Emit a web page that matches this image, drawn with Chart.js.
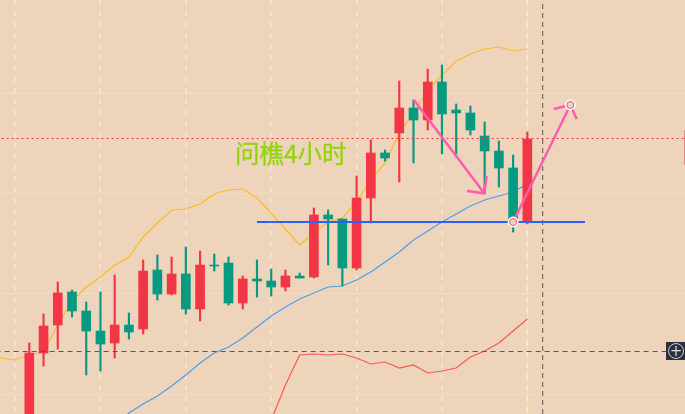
<!DOCTYPE html>
<html>
<head>
  <meta charset="UTF-8" />
  <title>问樵4小时</title>
  <script src="https://cdn.jsdelivr.net/npm/chart.js"></script>
  <style>
    html, body { margin: 0; padding: 0; background: #efd4bc; overflow: hidden; }
    #wrap { position: relative; width: 685px; height: 414px; overflow: hidden; }
    /* 6px bigger on every side: Chart.js keeps that room for the end handles */
    canvas { display: block; position: absolute; left: -6px; top: -6px; }
    #note {
      position: absolute; left: 235px; top: 137px;
      font: 24.5px "Noto Sans CJK SC", sans-serif; line-height: 32px; color: #93d40a;
      -webkit-text-stroke: 0.3px #93d40a;
    }
    #plus {
      position: absolute; left: 666px; top: 342px; width: 19px; height: 18px;
      background: #2a3040;
    }
    #plus span {
      display: block; position: absolute; left: 2px; top: 1px; width: 14px; height: 14px;
      border: 1px solid #c8ccd2; border-radius: 50%; color: #d8dadd;
      font: 15px/14px "DejaVu Sans"; text-align: center;
    }
    #edge {
      position: absolute; left: 684px; top: 130px; width: 1px; height: 35px; background: #e08a90;
    }
  </style>
</head>
<body>
<div id="wrap">
  <canvas id="chart" width="697" height="426"></canvas>
  <div id="note">问樵4小时</div>
  <div id="plus"><span>+</span></div>
  <div id="edge"></div>
</div>
<script>
  // candles
  const opens  = [96.4,104.1,106.9,110.2,108.3,106.3,105.1,106.9,106.5,112.4,110.0,112.0,108.5,112.9,113.1,109.1,111.5,111.3,110.7,111.8,111.7,117.9,117.5,112.6,119.6,124.1,126.1,128.6,127.4,131.2,128.4,128.1,125.8,124.3,122.6,117.2];
  const closes = [104.1,106.8,110.1,108.3,106.3,105.0,106.9,106.2,112.3,110.0,112.0,108.5,112.9,112.8,109.1,111.5,111.3,110.7,111.8,111.6,117.9,117.5,112.6,119.6,124.1,123.6,128.6,127.4,131.2,128.0,128.1,126.4,124.3,122.6,117.2,125.5];
  const highs  = [105.1,108.0,111.2,110.4,109.2,110.2,111.9,108.1,113.4,113.9,113.7,114.7,114.3,114.0,113.7,111.8,113.4,112.5,112.4,112.1,118.6,118.4,117.5,121.8,125.4,124.4,131.3,129.4,132.5,132.9,129.0,128.8,127.2,125.3,123.9,126.2];
  const lows   = [95.4,102.8,104.5,107.7,101.9,102.3,103.6,105.5,106.0,109.4,109.9,108.0,107.3,112.3,108.9,108.5,109.7,109.8,110.3,111.6,111.6,112.9,110.8,112.4,117.1,123.3,121.2,123.1,126.4,124.0,124.0,125.9,120.0,120.7,116.2,117.0];

  // indicator lines, each starts at the given candle index
  const upperStart = -3;
  const upperBand = [103.8,103.6,103.4,103.9,104.2,106.9,109.3,110.7,111.7,112.9,113.7,115.7,117.1,118.4,118.5,119,120,120.4,120.5,119.6,118.1,116.5,114.9,116.1,117.2,117.6,119.2,121.4,123.1,126.1,128.1,130.4,131.9,133.3,134,134.5,134.7,134.3,134.5];
  const lowerStart = 6;
  const lowerBand = [97.1,98.1,99,99.8,100.8,101.9,103.1,104.1,104.7,105.6,106.7,107.8,108.7,109.5,110.1,110.7,110.8,111.4,112.2,113.2,114.2,115.4,116.3,117.2,118,118.8,119.4,119.8,120.2,121];
  const redStart = 17;
  const redLine = [97.4,100.9,103.9,104,103.9,104,103.6,103,103.2,102.6,102.9,102.1,102.3,102.6,103.7,104.3,105.1,106.3,107.5];

  // levels and hand drawn marks
  const crossPrice = 104.25;
  const crossIndex = 36.08;
  const lastPrice = 125.55;
  const supportPrice = 117.2;
  const supportFrom = 16.0;
  const supportTo = 39.05;
  const downArrowX = [27.03,31.97];
  const downArrowY = [129.4,120.07];
  const downHeadX = [30.76,31.97,32.14];
  const downHeadY = [120.3,120.07,121.8];
  const upArrowX = [34,38.02];
  const upArrowY = [117.2,128.9];
  const upHeadX = [36.85,38.02,38.47];
  const upHeadY = [128.5,128.9,127.5];
  const gridIndexes = [2,8,14,20,26,32];
  const gridPrices = [100,110.1,120.1,130.1];

  const UP = '#f23645';
  const DOWN = '#089981';
  const PINK = '#ff5cb0';

  const candleColors = closes.map((c, i) => c >= opens[i] ? UP : DOWN);
  const series = (vals, start) => vals.map((y, i) => ({ x: start + i, y }));
  const xy = (xs, ys) => xs.map((x, i) => ({ x, y: ys[i] }));

  function lineSet(data, color, width, extra) {
    return Object.assign({
      type: 'line', data, borderColor: color, borderWidth: width,
      pointRadius: 0, tension: 0, order: 5
    }, extra || {});
  }

  // axes stay for the grid only, they take no room
  const noHeight = axis => { axis.height = 0; };
  const noWidth = axis => { axis.width = 0; };

  new Chart(document.getElementById('chart'), {
    data: {
      datasets: [
        // indicators go under the candles
        lineSet(series(upperBand, upperStart), '#fbbc1e', 1.2, { order: 10 }),
        lineSet(series(lowerBand, lowerStart), '#4a9fe8', 1.2, { order: 10 }),
        lineSet(series(redLine, redStart), '#f8594f', 1.2, { order: 10 }),
        lineSet(xy([35,35], [98,139.4]), 'rgba(255,255,255,0.25)', 1, { order: 11 }),
        // wicks then bodies
        { type: 'bar', data: highs.map((h, i) => ({ x: i, y: [lows[i], h] })), backgroundColor: candleColors, barThickness: 1.5, grouped: false, order: 4 },
        { type: 'bar', data: opens.map((o, i) => ({ x: i, y: [o, closes[i]] })), backgroundColor: candleColors, barThickness: 9, grouped: false, order: 3 },
        // levels
        lineSet(xy([-3,48], [crossPrice,crossPrice]), '#555a60', 1, { borderDash: [5,4], order: 2 }),
        lineSet(xy([crossIndex,crossIndex], [98,139.4]), '#555a60', 1, { borderDash: [5,4], order: 2 }),
        lineSet(xy([-3,48], [lastPrice,lastPrice]), '#f5304a', 1, { borderDash: [2,3], order: 2 }),
        lineSet(xy([supportFrom,supportTo], [supportPrice,supportPrice]), '#2962ff', 2, { order: 1 }),
        // arrows
        lineSet(xy(downArrowX, downArrowY), PINK, 2.5, { order: 0 }),
        lineSet(xy(downHeadX, downHeadY), PINK, 2.5, { order: 0 }),
        lineSet(xy(upHeadX, upHeadY), PINK, 2.5, { order: 0 }),
        lineSet(xy(upArrowX, upArrowY), PINK, 2.5, { order: 0 }),
        // arrow end handles: white halo with a thin red ring
        lineSet(xy(upArrowX, upArrowY), PINK, 0, {
          order: -1, showLine: false, pointRadius: 5, pointBackgroundColor: '#ffffff',
          pointBorderColor: '#ffffff', pointBorderWidth: 1
        }),
        lineSet(xy(upArrowX, upArrowY), PINK, 0, {
          order: -2, showLine: false, pointRadius: 3.5, pointBackgroundColor: '#efd4bc',
          pointBorderColor: '#f2506e', pointBorderWidth: 1
        })
      ]
    },
    options: {
      responsive: false,
      animation: false,
      layout: { padding: 0 },
      plugins: { legend: { display: false }, tooltip: { enabled: false } },
      scales: {
        x: {
          type: 'linear', min: -2.06, max: 46.08, offset: false,
          afterFit: noHeight,
          afterBuildTicks: axis => { axis.ticks = gridIndexes.map(value => ({ value })); },
          grid: { color: 'rgba(255,255,255,0.3)', lineWidth: 2, drawTicks: false, tickLength: 0 },
          border: { display: false, dash: [5,6] },
          ticks: { display: false, padding: 0 }
        },
        y: {
          type: 'linear', min: 98, max: 139.4,
          afterFit: noWidth,
          afterBuildTicks: axis => { axis.ticks = gridPrices.map(value => ({ value })); },
          grid: { color: 'rgba(255,255,255,0.18)', lineWidth: 1, drawTicks: false, tickLength: 0 },
          border: { display: false },
          ticks: { display: false, padding: 0 }
        }
      }
    }
  });
</script>
</body>
</html>
